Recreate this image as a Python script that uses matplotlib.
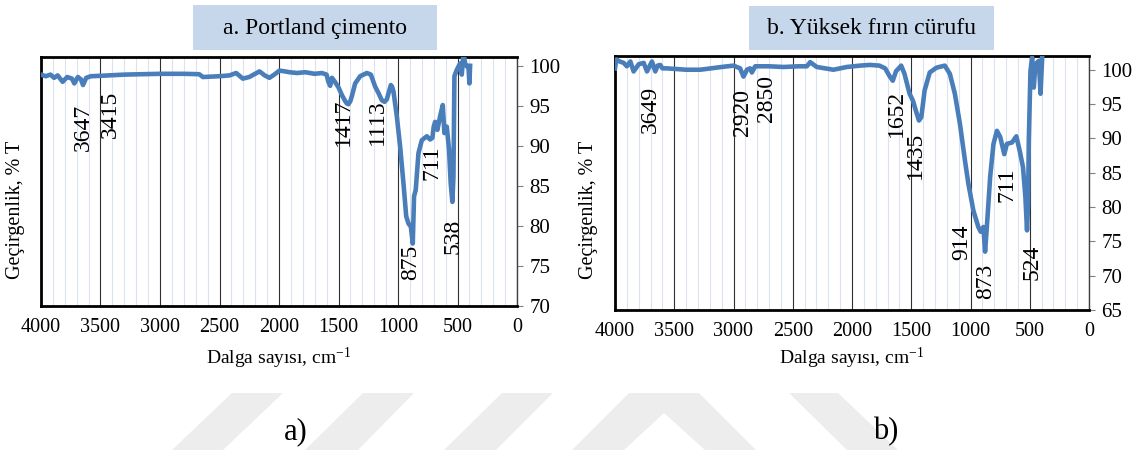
#!/usr/bin/env python
import matplotlib

matplotlib.use("Agg")
import matplotlib.pyplot as plt
from matplotlib.patches import Polygon, Rectangle
from matplotlib.ticker import MultipleLocator

W, H = 1139, 450

# Portland cement spectrum (wavenumber, % T)
pc_wn = [4000, 3960, 3920, 3890, 3860, 3818, 3780, 3740, 3720, 3690, 3664, 3647, 3620, 3580,
         3500, 3300, 3000, 2800, 2670, 2640, 2500, 2416, 2360, 2304, 2250, 2164, 2120, 2080,
         2040, 1996, 1950, 1912, 1850, 1780, 1700, 1640, 1600, 1585, 1570, 1555, 1530, 1500,
         1470, 1444, 1430, 1417, 1400, 1388, 1360, 1318, 1262, 1228, 1192, 1164, 1136, 1113,
         1094, 1060, 1050, 1038, 1010, 982, 954, 931, 912, 892, 876, 865, 851, 828, 800, 758,
         730, 711, 700, 688, 669, 646, 624, 610, 590, 571, 557, 543, 534, 526, 506, 478, 464,
         450, 436, 420, 408, 400, 394]
pc_t = [98.9, 98.7, 98.9, 98.5, 98.8, 98.0, 98.6, 98.4, 97.8, 98.6, 98.3, 97.6, 98.5, 98.7,
        98.75, 98.9, 99.0, 99.0, 98.95, 98.6, 98.7, 98.8, 99.1, 98.4, 98.6, 99.3, 98.8, 98.5,
        98.9, 99.4, 99.3, 99.2, 99.1, 99.2, 99.0, 99.1, 98.9, 98.0, 97.5, 98.5, 98.0, 97.3,
        96.3, 95.6, 95.3, 95.2, 95.6, 96.2, 97.8, 98.7, 99.1, 98.9, 97.4, 96.6, 95.7, 95.5,
        95.8, 97.6, 97.4, 96.8, 93.7, 89.9, 85.3, 81.2, 80.3, 79.9, 77.8, 83.7, 84.5, 89.1,
        90.7, 91.2, 90.8, 91.0, 92.4, 93.0, 92.0, 93.7, 95.1, 91.6, 92.4, 89.5, 85.3, 83.0,
        86.2, 98.7, 99.5, 100.3, 98.9, 101.6, 100.3, 99.9, 99.9, 97.8, 100.0]

# blast furnace slag spectrum
bfs_wn = [4000, 3989, 3960, 3927, 3900, 3870, 3843, 3800, 3758, 3730, 3700, 3688, 3660, 3640,
          3618, 3600, 3562, 3400, 3281, 3100, 3000, 2944, 2916, 2900, 2887, 2860, 2845, 2817,
          2700, 2578, 2450, 2381, 2353, 2297, 2157, 2100, 2044, 1932, 1850, 1769, 1720, 1684,
          1656, 1628, 1600, 1585, 1557, 1514, 1486, 1457, 1435, 1415, 1387, 1344, 1287, 1217,
          1174, 1132, 1089, 1047, 1018, 976, 934, 914, 891, 877, 862, 834, 806, 777, 749, 715,
          693, 650, 613, 585, 557, 537, 523, 514, 508, 494, 480, 466, 452, 423, 409, 395]
bfs_t = [100.2, 101.5, 101.2, 101.0, 100.5, 101.2, 99.75, 100.8, 101.0, 99.75, 100.8, 101.2,
         99.75, 100.6, 100.7, 100.2, 100.2, 100.0, 100.0, 100.4, 100.6, 100.2, 99.0, 99.5,
         100.0, 100.2, 99.6, 100.5, 100.5, 100.4, 100.5, 100.5, 101.1, 100.4, 100.0, 100.2,
         100.4, 100.6, 100.7, 100.6, 100.2, 99.1, 98.4, 99.8, 100.3, 100.6, 99.4, 96.5, 95.5,
         93.8, 92.6, 93.1, 97.0, 99.6, 100.3, 100.6, 99.4, 96.5, 92.1, 86.8, 83.4, 79.5, 77.1,
         76.4, 77.1, 73.5, 77.1, 84.4, 89.2, 91.1, 90.2, 87.7, 89.2, 89.4, 90.3, 88.2, 85.8,
         81.5, 76.6, 80.5, 89.7, 99.8, 101.8, 97.4, 100.8, 101.3, 96.5, 101.8]

# peak labels: text, x (wavenumber), y (% T) of label centre
pc_peaks = ["3647", "3415", "1417", "1113", "875", "711", "538"]
pc_peak_x = [3647, 3420, 1455, 1177, 898, 715, 538]
pc_peak_y = [92.3, 93.9, 92.9, 93.0, 75.5, 87.9, 78.7]

bfs_peaks = ["3649", "2920", "2850", "1652", "1435", "914", "873", "711", "524"]
bfs_peak_x = [3705, 2922, 2720, 1623, 1468, 1074, 869, 695, 484]
bfs_peak_y = [94.2, 93.7, 95.8, 93.7, 87.5, 74.9, 69.1, 83.2, 72.0]

titles = ["a. Portland çimento", "b. Yüksek fırın cürufu"]
sublabels = ["a)", "b)"]

BLUE = "#4a7ebb"
SERIF = ["Liberation Serif", "DejaVu Serif"]


def fx(px):
    return px / W


def fy(py):
    return 1 - py / H


def panel(fig, rect, wn, t, peaks, px, py, ylim, yticks):
    l, t_, r, b = rect
    ax = fig.add_axes([fx(l), fy(b), fx(r) - fx(l), (b - t_) / H])
    ax.set_xlim(4000, 0)
    ax.set_ylim(*ylim)
    ax.xaxis.set_major_locator(MultipleLocator(500))
    ax.xaxis.set_minor_locator(MultipleLocator(100))
    ax.set_yticks(yticks)
    ax.grid(True, which="minor", axis="x", color="#dbe3f1", lw=0.8)
    ax.grid(True, which="major", axis="x", color="#303030", lw=0.8)
    ax.set_axisbelow(True)
    ax.plot(wn, t, color=BLUE, lw=3.3, solid_joinstyle="round", zorder=3)
    for s, x, y in zip(peaks, px, py):
        ax.text(x, y, s, rotation=90, ha="center", va="center", fontsize=17,
                family=SERIF, zorder=4)
    ax.yaxis.tick_right()
    ax.tick_params(axis="y", which="both", direction="out", length=4, width=0.8,
                   color="#808080", labelsize=15, pad=5)
    ax.tick_params(axis="x", which="both", length=0, labelsize=14.5, pad=9)
    for lab in ax.get_xticklabels() + ax.get_yticklabels():
        lab.set_family(SERIF)
    for side in ("left", "top", "bottom"):
        ax.spines[side].set_linewidth(2.0)
        ax.spines[side].set_color("black")
    ax.spines["right"].set_linewidth(1.0)
    ax.spines["right"].set_color("#404040")
    return ax


def main():
    plt.rcParams["mathtext.fontset"] = "custom"
    plt.rcParams["mathtext.rm"] = "Liberation Serif"
    plt.rcParams["mathtext.it"] = "Liberation Serif:italic"
    fig = plt.figure(figsize=(W / 100, H / 100), dpi=100)

    # faint watermark shapes at the bottom
    shapes = [
        [(232, 393), (283, 393), (223, 450), (172, 450)],
        [(363, 393), (414, 393), (358, 450), (305, 450)],
        [(502, 393), (553, 393), (496, 450), (444, 450)],
        [(629, 393), (699, 393), (756, 450), (705, 450), (664, 413), (624, 450), (572, 450)],
        [(789, 393), (838, 393), (898, 450), (847, 450)],
    ]
    for s in shapes:
        fig.patches.append(Polygon([(fx(a), fy(b)) for a, b in s], closed=True,
                                   transform=fig.transFigure, fc="#ededed", ec="none",
                                   zorder=0))

    panel(fig, (41, 57, 517, 306), pc_wn, pc_t, pc_peaks, pc_peak_x, pc_peak_y,
          (70, 101.1), range(70, 101, 5))
    panel(fig, (615, 56, 1089, 310), bfs_wn, bfs_t, bfs_peaks, bfs_peak_x, bfs_peak_y,
          (65, 102.0), range(65, 101, 5))

    boxes = [(193, 5, 437, 50), (749, 6, 994, 50)]
    for (x0, y0, x1, y1), title in zip(boxes, titles):
        fig.patches.append(Rectangle((fx(x0), fy(y1)), fx(x1) - fx(x0), (y1 - y0) / H,
                                     transform=fig.transFigure, fc="#c6d6eb", ec="none"))
        fig.text(fx((x0 + x1) / 2), fy((y0 + y1) / 2 + 1), title, ha="center", va="center",
                 fontsize=17, family=SERIF)

    for xc in (279, 852):
        fig.text(fx(xc), fy(358), "Dalga sayısı, cm$^{\\mathregular{-1}}$", ha="center",
                 va="center", fontsize=14, family=SERIF)
    for xc in (16, 589):
        fig.text(fx(xc), fy(210), "Geçirgenlik, % T", rotation=90, ha="center",
                 va="center", fontsize=14.5, family=SERIF)

    for xc, s in zip((296, 886), sublabels):
        fig.text(fx(xc), fy(432), s, ha="center", va="center", fontsize=22, family=SERIF)

    fig.savefig("out.png", dpi=100)


if __name__ == "__main__":
    main()
